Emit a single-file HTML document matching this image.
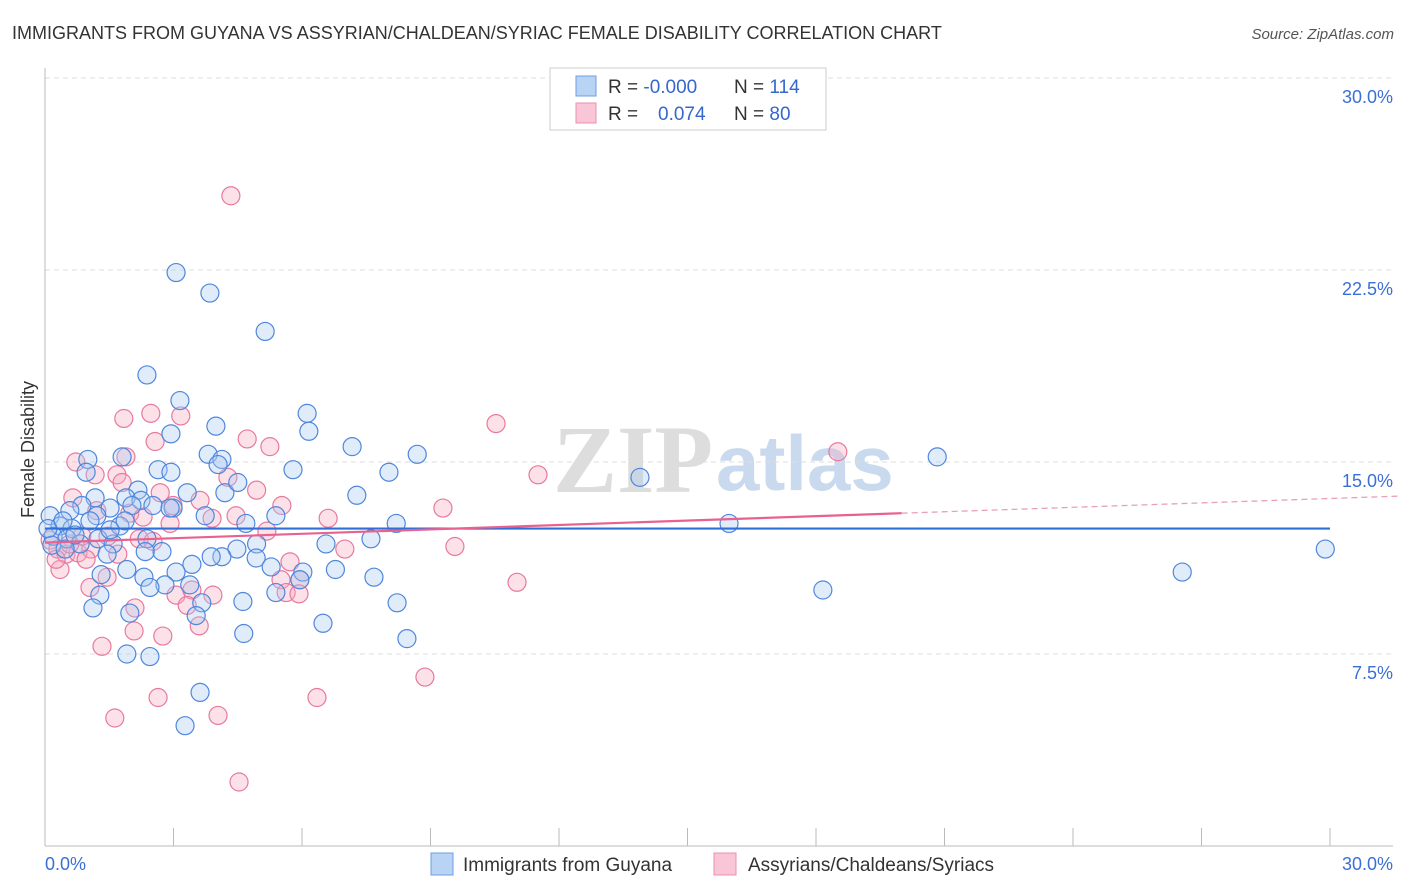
<!DOCTYPE html>
<html><head><meta charset="utf-8"><style>
body{margin:0;background:#fff;font-family:"Liberation Sans",sans-serif;}
svg{display:block}
</style></head><body>
<svg id="chart" width="1406" height="892" viewBox="0 0 1406 892">
<text x="12" y="39" font-size="18" fill="#333">IMMIGRANTS FROM GUYANA VS ASSYRIAN/CHALDEAN/SYRIAC FEMALE DISABILITY CORRELATION CHART</text>
<text x="1394" y="39" font-size="15" fill="#555" font-style="italic" text-anchor="end">Source: ZipAtlas.com</text>
<g>
<text x="553" y="492" font-size="96" font-family="Liberation Serif,serif" fill="#ddd" font-weight="bold">ZIP</text>
<text x="716" y="490" font-size="78" fill="#c9d9ee" font-weight="bold">atlas</text>
</g>
<g id="grid"></g>
<g id="axes"></g>
<g id="pts"></g>
<g id="reg"></g>
<text x="12" y="0" transform="translate(34,530) rotate(-90)" font-size="18" fill="#333">Female Disability</text>
<g>
<rect x="550" y="68" width="276" height="62" fill="#fff" stroke="#ccc"/>
<rect x="576" y="76" width="20" height="20" fill="#b9d3f5" stroke="#6b9ee6"/>
<rect x="576" y="103" width="20" height="20" fill="#f8c6d6" stroke="#ec90ae"/>
<text x="608" y="93" font-size="19" fill="#333">R = <tspan fill="#3567cc">-0.000</tspan></text>
<text x="734" y="93" font-size="19" fill="#333">N = <tspan fill="#3567cc">114</tspan></text>
<text x="608" y="120" font-size="19" fill="#333">R = <tspan fill="#3567cc" x="658">0.074</tspan></text>
<text x="734" y="120" font-size="19" fill="#333">N = <tspan fill="#3567cc"> 80</tspan></text>
</g>
<g>
<rect x="431" y="853" width="22" height="22" fill="#b9d3f5" stroke="#6b9ee6"/>
<text x="463" y="871" font-size="19" fill="#333">Immigrants from Guyana</text>
<rect x="714" y="853" width="22" height="22" fill="#f8c6d6" stroke="#ec90ae"/>
<text x="748" y="871" font-size="19" fill="#333">Assyrians/Chaldeans/Syriacs</text>
</g>
</svg>
<script>
const blueX=[3.06,3.85,5.14,2.38,3.15,6.12,6.16,3.99,2.94,7.17,8.69,20.83,1.80,1.0,3.81,4.13,4.04,2.64,2.94,5.79,8.03,13.89,0.96,3.32,7.28,2.17,1.17,1.89,2.24,4.2,4.5,2.03,2.52,2.99,1.52,0.86,0.58,1.21,3.74,5.39,8.2,15.97,0.12,0.35,0.63,1.05,1.75,4.69,0.19,0.51,0.82,1.24,1.59,2.38,4.94,6.56,7.61,4.48,2.73,2.34,1.45,29.89,4.13,4.93,5.28,6.02,6.78,3.43,3.06,1.91,1.31,26.55,7.68,2.31,2.8,3.38,2.45,5.39,18.16,1.28,3.66,4.62,8.22,1.12,1.98,3.53,6.49,4.64,8.45,1.91,2.45,3.62,3.27,0.07,0.16,0.42,0.7,1.52,1.87,0.47,3.88,5.95,2.92];
const blueY=[22.4,21.6,20.1,18.4,17.4,16.9,16.2,16.4,16.1,15.6,15.3,15.2,15.2,15.1,15.3,15.1,14.9,14.7,14.6,14.7,14.6,14.4,14.6,13.8,13.7,13.9,13.6,13.6,13.5,13.8,14.2,13.3,13.3,13.2,13.2,13.3,13.1,12.9,12.9,12.9,12.6,12.6,12.9,12.5,12.4,12.7,12.5,12.6,12.1,12.0,11.8,12.0,11.8,12.0,11.8,11.8,12.0,11.6,11.5,11.5,11.4,11.6,11.3,11.25,10.9,10.7,10.8,11.0,10.7,10.8,10.6,10.7,10.5,10.5,10.2,10.2,10.1,9.9,10.0,9.8,9.5,9.55,9.5,9.3,9.1,9.0,8.7,8.3,8.1,7.5,7.4,6.0,4.7,12.4,11.75,12.7,12.15,12.35,12.7,11.6,11.3,10.4,13.2];
const pinkX=[4.34,10.53,18.51,11.51,1.84,2.47,3.17,4.72,2.57,5.25,1.89,0.72,1.17,1.68,1.8,4.27,4.94,2.69,0.65,5.53,9.29,1.21,1.98,3.9,4.46,6.61,2.29,2.92,5.18,1.47,2.2,2.52,0.12,0.3,0.49,0.77,1.07,1.7,7.0,9.57,0.35,0.96,1.45,5.72,5.51,5.95,11.02,1.05,3.06,3.92,5.63,5.93,3.43,3.32,2.1,3.6,2.08,2.75,1.33,8.87,6.35,2.64,1.63,4.04,4.53,0.26,0.58,0.86,3.62,2.99];
const pinkY=[25.4,16.5,15.4,14.5,16.7,16.9,16.8,15.9,15.8,15.6,15.2,15.0,14.5,14.5,14.2,14.4,13.9,13.8,13.6,13.3,13.2,13.1,13.0,12.8,12.9,12.8,12.85,12.6,12.3,12.1,12.0,11.9,11.95,11.6,11.4,11.45,11.6,11.4,11.6,11.7,10.8,11.2,10.5,11.1,10.4,10.4,10.3,10.1,9.8,9.8,9.9,9.85,10.0,9.4,9.3,8.6,8.4,8.2,7.8,6.6,5.8,5.8,5.0,5.1,2.5,11.2,11.8,12.1,13.5,13.3];
const yTicks=[7.5,15.0,22.5,30.0];
const yTickLabels=["7.5%","15.0%","22.5%","30.0%"];
const blueReg=[12.4,0];      // intercept, slope
const pinkReg=[11.85,0.0575];
const NS="http://www.w3.org/2000/svg";
const X=v=>45+v*(1285/30), Y=v=>846-v*(768/30);
function mk(tag,attrs,parent){const e=document.createElementNS(NS,tag);for(const k in attrs)e.setAttribute(k,attrs[k]);parent.appendChild(e);return e;}
const grid=document.getElementById('grid'),axes=document.getElementById('axes'),pts=document.getElementById('pts'),reg=document.getElementById('reg');
yTicks.forEach((t,i)=>{
 const l=mk('line',{x1:45,x2:1393,y1:Y(t),y2:Y(t),stroke:'#ddd','stroke-dasharray':'5,4'},grid);
 
 
 const tx=mk('text',{x:1393,y:Y(t)+25,'text-anchor':'end','font-size':18,fill:'#3b6fd6'},axes);
 tx.textContent=yTickLabels[i];
 
 
});
mk('line',{x1:45,x2:45,y1:68,y2:846,stroke:'#bbb'},axes);
mk('line',{x1:45,x2:1393,y1:846,y2:846,stroke:'#bbb'},axes);
for(let i=0;i<=10;i++){const t=mk('line',{x1:X(i*3),x2:X(i*3),y1:828,y2:846,stroke:'#bbb'},axes);
 
 }
const xl0=mk('text',{x:45,y:870,'font-size':18,fill:'#3b6fd6'},axes);xl0.textContent='0.0%';


const xl1=mk('text',{x:1393,y:870,'font-size':18,fill:'#3b6fd6','text-anchor':'end'},axes);xl1.textContent='30.0%';


function dots(xs,ys,fill,stroke,name){xs.forEach((x,i)=>{const c=mk('circle',{cx:X(x),cy:Y(ys[i]),r:9,fill:fill,'fill-opacity':0.35,stroke:stroke,'stroke-width':1.2},pts);
 
 });}
dots(pinkX,pinkY,'#f5a9c1','#e8799f','point-assyrian');
dots(blueX,blueY,'#a9c8f2','#4f87dc','point-guyana');
const bl=mk('line',{x1:X(0),x2:X(30),y1:Y(blueReg[0]),y2:Y(blueReg[0]+blueReg[1]*30),stroke:'#2f6fd6','stroke-width':2.2},reg);


const pl=mk('line',{x1:X(0),x2:X(20),y1:Y(pinkReg[0]),y2:Y(pinkReg[0]+pinkReg[1]*20),stroke:'#e8618f','stroke-width':2.2},reg);


const pd=mk('line',{x1:X(20),x2:X(31.6),y1:Y(pinkReg[0]+pinkReg[1]*20),y2:Y(pinkReg[0]+pinkReg[1]*31.6),stroke:'#e8a0b8','stroke-width':1.3,'stroke-dasharray':'6,4'},reg);


</script>
</body></html>
